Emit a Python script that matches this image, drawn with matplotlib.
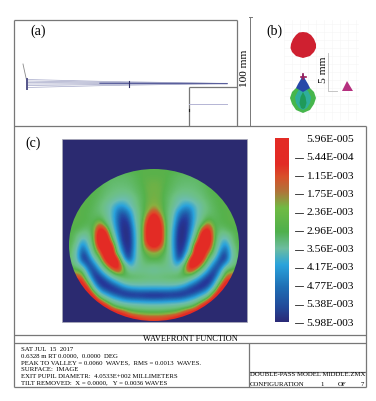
import numpy as np
import matplotlib
matplotlib.use('Agg')
import matplotlib.pyplot as plt
from matplotlib.colors import LinearSegmentedColormap
from matplotlib.patches import Ellipse, Polygon, Rectangle

plt.rcParams['font.family'] = ['Liberation Serif', 'DejaVu Serif']

# wavefront level, left half of the pupil, 0 = navy, 9 = red
wave_y = [169, 175, 181, 187, 193, 199, 205, 211, 217, 223, 229, 235, 241,
          247, 253, 259, 265, 271, 277, 283, 289, 295, 301, 307, 313, 319]
wave_half = [
    [5, 5, 5, 5, 5, 5, 5, 5, 5, 5, 5, 5, 5, 5, 5],
    [5, 5, 5, 5, 5, 5, 4.8, 4.6, 4.5, 4.5, 4.6, 4.8, 5, 5, 5],
    [5, 5, 5, 5, 5, 4.9, 4.6, 4.4, 4.4, 4.4, 4.5, 4.7, 5, 5.1, 5.2],
    [5, 5, 5, 5, 5, 4.8, 4.5, 4.3, 4.2, 4.2, 4.3, 4.6, 4.9, 5.2, 5.3],
    [5, 5, 5, 5, 4.9, 4.7, 4.3, 4.1, 3.9, 3.8, 4.0, 4.4, 4.8, 5.2, 5.3],
    [5, 5, 5, 5, 4.8, 4.5, 4.1, 3.7, 3.2, 3.0, 3.3, 4.1, 4.7, 5.2, 5.4],
    [5, 5, 5, 5, 4.7, 4.3, 3.6, 2.8, 2.0, 2.0, 3.0, 3.9, 4.7, 5.3, 5.6],
    [5, 5, 5, 4.9, 4.6, 4.2, 3.6, 2.6, 1.2, 1.0, 1.8, 3.6, 4.6, 5.5, 6.5],
    [5, 5, 5, 4.9, 4.6, 4.7, 3.8, 2.6, 0.9, 0.5, 1.2, 3.3, 4.6, 6.5, 8.6],
    [5, 5, 5, 4.8, 4.8, 6.0, 4.4, 2.8, 0.9, 0.2, 0.7, 3.0, 4.8, 7.5, 9],
    [5, 5, 4.6, 4.3, 5.2, 7.8, 6.5, 3.2, 1.1, 0.1, 0.4, 2.6, 5, 8, 9],
    [5, 4.4, 3.5, 3.6, 5.4, 8.8, 8.2, 4.2, 1.4, 0.1, 0.3, 2.4, 5, 8, 9],
    [5, 4.2, 2.0, 2.9, 5.4, 8.8, 8.8, 5.8, 1.8, 0.2, 0.2, 2.3, 5, 7.8, 9],
    [4.9, 3.4, 1.0, 2.4, 4.8, 7.8, 9, 8.2, 2.6, 0.5, 0.2, 2.4, 4.9, 6.5, 7.5],
    [4.7, 3.0, 0.5, 1.3, 4.3, 6.0, 8.8, 8.8, 3.6, 0.9, 0.3, 2.6, 4.6, 5.3, 5.5],
    [4.5, 3.2, 0.4, 0.6, 2.6, 4.8, 7.8, 9, 7.5, 1.5, 0.6, 2.8, 4.3, 4.9, 5.1],
    [4.5, 4.0, 2.2, 0.4, 1.1, 3.2, 5.8, 8, 8, 4.8, 1.9, 3.2, 4.0, 4.2, 4.0],
    [5.5, 5.5, 5, 1.4, 0.3, 1.6, 3.5, 5.4, 7, 5.2, 3.6, 3.7, 3.7, 3.6, 3.3],
    [6.5, 6.5, 6.5, 3.0, 0.4, 0.4, 1.5, 3.0, 4.0, 4.8, 4.7, 4.5, 4.4, 4.3, 4.3],
    [8, 8, 8, 5.2, 1.6, 0.2, 0.3, 1.0, 2.0, 3.0, 3.5, 3.6, 3.6, 3.5, 3.5],
    [8.5, 8.5, 8.5, 7.8, 3.4, 1.3, 0.5, 0.2, 0.4, 1.0, 1.5, 1.7, 1.8, 1.8, 1.8],
    [8.5, 8.5, 8.5, 8.8, 7.0, 3.2, 2.2, 1.3, 0.7, 0.3, 0.2, 0.2, 0.2, 0.1, 0.1],
    [8.5, 8.5, 8.5, 8.8, 8.8, 7.0, 4.7, 3.4, 2.7, 2.1, 1.8, 1.7, 1.6, 1.5, 1.5],
    [8.5, 8.5, 8.5, 8.5, 8.8, 8.8, 8.2, 5.8, 4.8, 4.4, 4.1, 3.9, 3.8, 3.7, 3.7],
    [8.5, 8.5, 8.5, 8.5, 8.5, 8.8, 8.8, 8.5, 7.8, 6.8, 5.7, 5.4, 5.2, 5.1, 5.1],
    [8.5, 8.5, 8.5, 8.5, 8.5, 8.5, 8.8, 8.8, 8.8, 8.8, 8.2, 7.6, 7.2, 7, 7],
]
bar_labels = ['5.96E-005', '5.44E-004', '1.15E-003', '1.75E-003', '2.36E-003',
              '2.96E-003', '3.56E-003', '4.17E-003', '4.77E-003', '5.38E-003',
              '5.98E-003']
info_lines = ['SAT JUL  15  2017',
              '0.6328 m RT 0.0000,  0.0000  DEG',
              'PEAK TO VALLEY = 0.0060  WAVES,  RMS = 0.0013  WAVES.',
              'SURFACE:  IMAGE',
              'EXIT PUPIL DIAMETR:  4.0533E+002 MILLIMETERS',
              'TILT REMOVED:  X = 0.0000,   Y = 0.0036 WAVES']
info_y = [349.3, 355.7, 363.3, 369.3, 376.7, 383]
config_words = ['CONFIGURATION', '1', 'OF', '7']
config_x = [250, 320, 338, 361]

# ray fan in panel (a)
ray_start = [79.5, 81, 82.5, 84, 85.5, 87.5]
# spot outlines in panel (b)
red_spot = [(303, 32), (307, 32.5), (311, 35), (314, 39), (316, 44), (316, 48), (314, 52), (310, 56),
            (303, 58), (296, 56), (292, 52), (290.5, 48), (291, 44), (293, 39), (296, 35), (299, 32.5)]
blue_cap = [(303, 73), (305, 79), (308, 84), (310, 88), (303, 92), (296, 88), (298, 84), (301, 79)]
green_spot = [(296, 88), (303, 87), (310, 88), (314, 92), (316, 98), (314, 104), (310, 110), (303, 113),
              (296, 110), (292, 104), (290, 98), (292, 92)]
teal_spot = [(303, 87), (308, 91), (311, 97), (310, 103), (307, 108), (303, 110), (299, 108), (296, 103),
             (295, 97), (298, 91)]
inner_spot = [(303, 92), (305.5, 97), (306.5, 103), (305, 108), (303, 109), (301, 108), (299.5, 103), (300.5, 97)]
pink_mark = [(342, 91), (347, 81), (353, 91)]

bar_cmap = LinearSegmentedColormap.from_list('bar', [
    (0.0, '#2b2a77'), (0.08, '#234a9a'), (0.19, '#1f6fb5'), (0.31, '#2aa3dc'),
    (0.40, '#6dbda0'), (0.49, '#4fb04c'), (0.62, '#70bb44'), (0.71, '#b0743a'),
    (0.79, '#d8502a'), (0.86, '#e32b25'), (1.0, '#e32b25')])
wave_cmap = LinearSegmentedColormap.from_list('wave', [
    (0.0, '#2b2a77'), (0.06, '#25399a'), (0.13, '#1f6fb5'), (0.22, '#2aa3dc'),
    (0.33, '#6dbdb0'), (0.45, '#6cc080'), (0.55, '#55b24c'), (0.62, '#8ab040'),
    (0.68, '#c06a30'), (0.74, '#de4a28'), (0.80, '#e32b25'), (1.0, '#e32b25')])

FRAME = '#777777'


def draw_frames(ax):
    for x0, y0, x1, y1 in [(13.5, 19.5, 237, 19.5), (237, 19.5, 237, 126), (13.5, 19.5, 13.5, 387.3),
                           (13.5, 126, 366, 126), (366, 126, 366, 387.3), (13.5, 335, 366, 335),
                           (13.5, 343, 366, 343), (13.5, 387.3, 366, 387.3), (249, 343, 249, 387.3),
                           (249, 372, 366, 372), (189, 87, 237, 87), (189, 87, 189, 126)]:
        ax.plot([x0, x1], [y0, y1], color=FRAME, lw=0.9, solid_capstyle='butt')


def draw_panel_a(ax):
    ax.text(38, 31, '(a)', fontsize=10, ha='center', va='center')
    for y in ray_start:
        ax.plot([26.5, 100, 227], [y, y + (83.5 - y) * 0.45, 83.5], color='#a4a7c8', lw=0.5)
    ax.plot([100, 227], [83.3, 83.6], color='#5a5f9c', lw=0.9)
    ax.plot([23, 24.5, 26.5], [64, 71, 80], color='#888888', lw=0.6)
    ax.plot([26.5, 26.5], [79, 88.5], color='#55558a', lw=1.4)
    ax.plot([129, 129], [81, 86.5], color='#33336a', lw=0.8)
    ax.plot([189, 227], [104, 104], color='#b4b4d4', lw=0.7)
    ax.plot([189, 189], [109, 111], color='#222222', lw=0.8)
    ax.plot([250, 250], [17, 126], color=FRAME, lw=0.7)
    ax.plot([248.5, 251.5], [17, 17], color=FRAME, lw=0.7)
    ax.text(244.5, 68, '100 mm', fontsize=8.2, rotation=90, ha='center', va='center')


def draw_panel_b(ax):
    ax.text(274, 31, '(b)', fontsize=10, ha='center', va='center')
    for v in np.arange(284, 360, 8):
        ax.plot([v, v], [20, 120], color='#f5f5f5', lw=0.4, zorder=0.5)
    for v in np.arange(24, 120, 8):
        ax.plot([284, 358], [v, v], color='#f5f5f5', lw=0.4, zorder=0.5)
    ax.add_patch(Polygon(red_spot, closed=True, fc='#cf2030', ec='none'))
    ax.add_patch(Polygon(green_spot, closed=True, fc='#46b64c', ec='none'))
    ax.add_patch(Polygon(teal_spot, closed=True, fc='#2fae9c', ec='none'))
    ax.add_patch(Polygon(inner_spot, closed=True, fc='#1f9a5a', ec='none'))
    ax.add_patch(Polygon(blue_cap, closed=True, fc='#2548a8', ec='none'))
    ax.plot([303, 303], [74, 79], color='#9c1f5a', lw=1.2, zorder=3)
    ax.plot([300.5, 305.5], [76.5, 76.5], color='#9c1f5a', lw=1.2, zorder=3)
    ax.add_patch(Polygon(pink_mark, closed=True, fc='#b5307f', ec='none'))
    ax.plot([328, 328, 337], [53, 91, 91], color='#bbbbbb', lw=0.6)
    ax.text(324, 70, '5 mm', fontsize=8.2, rotation=90, ha='center', va='center')


def draw_panel_c(ax):
    ax.text(33, 143, '(c)', fontsize=10, ha='center', va='center')
    ax.add_patch(Rectangle((62, 138.5), 185, 183.5, fc='#2b2a70', ec='#aaaab8', lw=0.5))
    half = np.array(wave_half, dtype=float)
    field = np.hstack([half, half[:, -2::-1]])
    im = ax.imshow(field, cmap=wave_cmap, vmin=0, vmax=9, interpolation='bicubic',
                   extent=(67, 241, wave_y[-1] + 3, wave_y[0] - 3), aspect='auto', zorder=2)
    im.set_clip_path(Ellipse((154, 245), 170, 152, transform=ax.transData))

    ramp = np.linspace(1, 0, 256).reshape(-1, 1)
    ax.imshow(ramp, cmap=bar_cmap, vmin=0, vmax=1, extent=(275, 289, 322, 138), aspect='auto', zorder=2)
    ypos = np.linspace(139.3, 323, len(bar_labels))
    for i, (y, lab) in enumerate(zip(ypos, bar_labels)):
        ax.text(306.5, y, lab, fontsize=8.2, ha='left', va='center')
        if i > 0:
            ax.plot([295, 303], [y, y], color='#222222', lw=0.6)


def draw_footer(ax):
    ax.text(190, 339, 'WAVEFRONT FUNCTION', fontsize=6.0, ha='center', va='center')
    for y, line in zip(info_y, info_lines):
        ax.text(21, y, line, fontsize=4.85, ha='left', va='center')
    ax.text(250, 375, 'DOUBLE-PASS MODEL MIDDLE.ZMX', fontsize=4.85, ha='left', va='center')
    for x, word in zip(config_x, config_words):
        ax.text(x, 384, word, fontsize=4.85, ha='left', va='center')


def main():
    fig = plt.figure(figsize=(3.76, 4.01), dpi=100)
    ax = fig.add_axes([0, 0, 1, 1])
    draw_frames(ax)
    draw_panel_a(ax)
    draw_panel_b(ax)
    draw_panel_c(ax)
    draw_footer(ax)
    ax.set_xlim(0, 376)
    ax.set_ylim(401, 0)
    ax.axis('off')
    fig.savefig('out.png', dpi=100)


if __name__ == '__main__':
    main()
